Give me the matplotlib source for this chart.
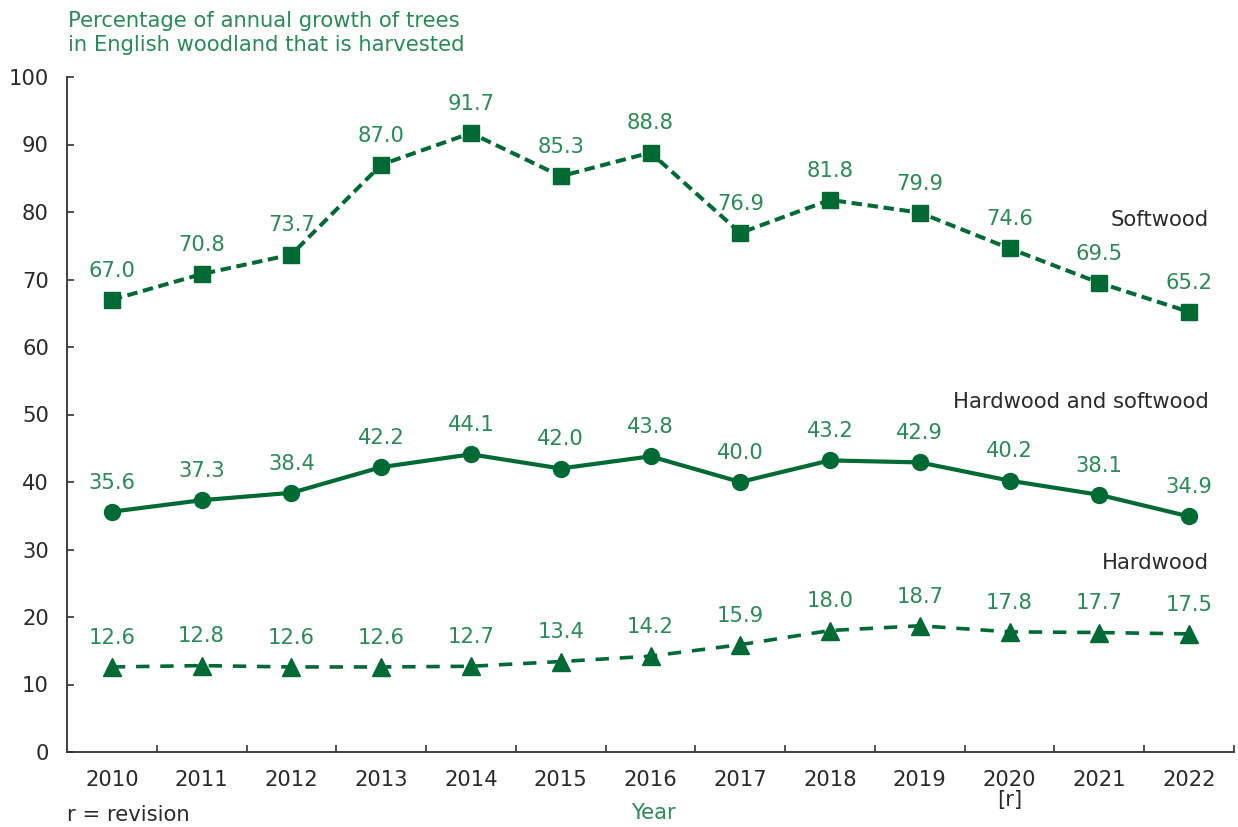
import matplotlib
matplotlib.use("Agg")
import matplotlib.pyplot as plt
from matplotlib.ticker import FixedLocator

years = [2010, 2011, 2012, 2013, 2014, 2015, 2016, 2017, 2018, 2019, 2020, 2021, 2022]
year_labels = ["2010", "2011", "2012", "2013", "2014", "2015", "2016", "2017",
               "2018", "2019", "2020\n[r]", "2021", "2022"]
softwood = [67.0, 70.8, 73.7, 87.0, 91.7, 85.3, 88.8, 76.9, 81.8, 79.9, 74.6, 69.5, 65.2]
combined = [35.6, 37.3, 38.4, 42.2, 44.1, 42.0, 43.8, 40.0, 43.2, 42.9, 40.2, 38.1, 34.9]
hardwood = [12.6, 12.8, 12.6, 12.6, 12.7, 13.4, 14.2, 15.9, 18.0, 18.7, 17.8, 17.7, 17.5]

LINE = "#006a35"
LABEL = "#2a8a58"
TEXT = "#2b2b2b"
FS = 15.2

plt.rcParams["font.family"] = ["DejaVu Sans"]

fig = plt.figure(figsize=(12.38, 8.27), dpi=100)
ax = fig.add_axes([67 / 1238, 75 / 827, (1234 - 67) / 1238, (752 - 77) / 827])

ax.plot(years, softwood, color=LINE, lw=2.9, ls=(0, (2.6, 1.4)),
        marker="s", ms=12, mfc=LINE, mec=LINE)
ax.plot(years, combined, color=LINE, lw=3.0, ls="-",
        marker="o", ms=11.5, mfc=LINE, mec=LINE)
ax.plot(years, hardwood, color=LINE, lw=2.6, ls=(0, (3.7, 3.0)),
        marker="^", ms=12.5, mfc=LINE, mec=LINE)

for series in (softwood, combined, hardwood):
    for x, v in zip(years, series):
        ax.annotate(f"{v:.1f}", (x, v), xytext=(0, 21), textcoords="offset points",
                    ha="center", va="center", color=LABEL, fontsize=FS)

ax.text(2022.22, 78.8, "Softwood", ha="right", va="center", color=TEXT, fontsize=FS)
ax.text(2022.22, 51.85, "Hardwood and softwood", ha="right", va="center", color=TEXT, fontsize=FS)
ax.text(2022.22, 28.0, "Hardwood", ha="right", va="center", color=TEXT, fontsize=FS)

ax.set_xlim(2009.5, 2022.5)
ax.set_ylim(0, 100)
ax.set_yticks(range(0, 101, 10))
ax.set_xticks(years)
ax.set_xticklabels(year_labels)
ax.xaxis.set_minor_locator(FixedLocator([y + 0.5 for y in years]))

ax.tick_params(axis="x", which="major", length=0, pad=13, labelsize=FS, labelcolor=TEXT)
ax.tick_params(axis="x", which="minor", direction="in", length=5, width=1.2, color="#333333")
ax.tick_params(axis="y", direction="in", length=5, width=1.2, color="#333333",
               pad=13, labelsize=FS, labelcolor=TEXT)
for lbl in ax.get_xticklabels():
    lbl.set_verticalalignment("top")
    lbl.set_linespacing(1.0)

for side in ("top", "right"):
    ax.spines[side].set_visible(False)
for side in ("left", "bottom"):
    ax.spines[side].set_color("#333333")
    ax.spines[side].set_linewidth(1.3)

fig.text(68 / 1238, 1 - 33 / 827, "Percentage of annual growth of trees\nin English woodland that is harvested",
         ha="left", va="center", color=LABEL, fontsize=FS, linespacing=1.25)
fig.text(653 / 1238, 1 - 813 / 827, "Year", ha="center", va="center", color=LABEL, fontsize=FS)
fig.text(67 / 1238, 1 - 815 / 827, "r = revision", ha="left", va="center", color=TEXT, fontsize=FS)

fig.savefig("out.png", dpi=100, facecolor="white")
